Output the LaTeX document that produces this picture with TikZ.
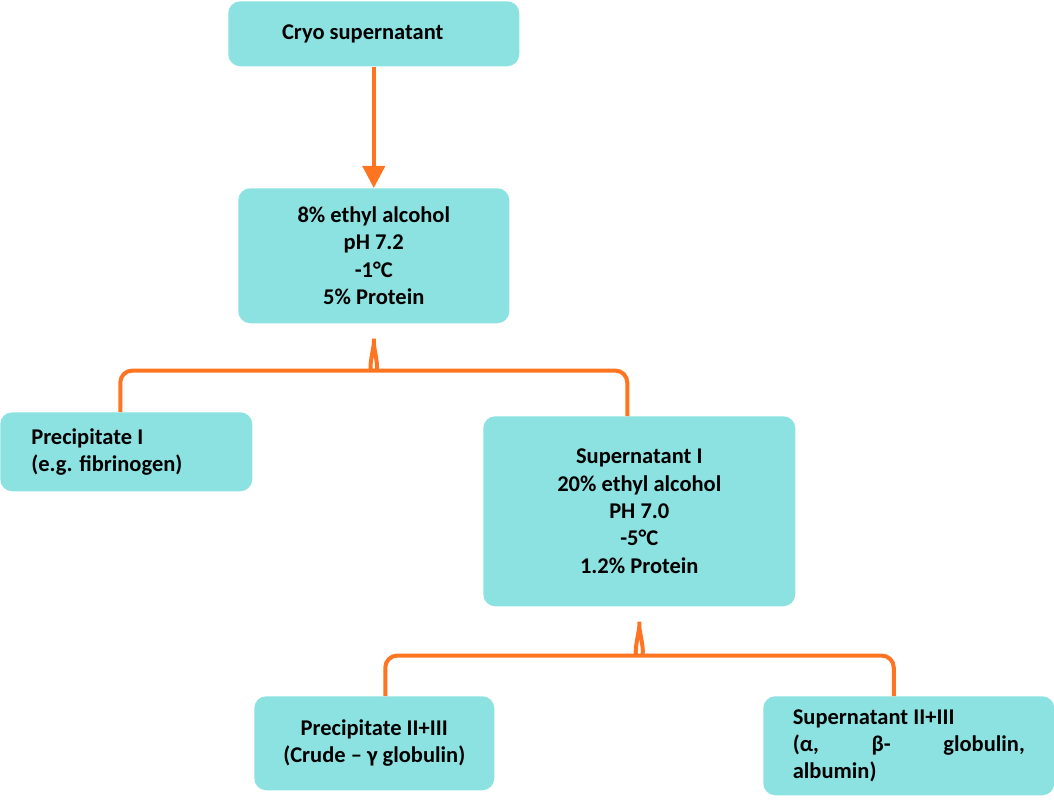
\documentclass[tikz,border=0pt]{standalone}
\usepackage{fontspec}
\setmainfont{Carlito}
\usetikzlibrary{calc, arrows.meta}
\newdimen\pu \pu=0.025cm
\definecolor{boxfill}{HTML}{8CE2E0}
\definecolor{flow}{HTML}{FF7420}
\begin{document}
\begin{tikzpicture}[
        x = 0.025cm, y = -0.025cm,
        box/.style = {fill = boxfill, draw = none, rounded corners = 12\pu,
            anchor = north west, font = \fontsize{16}{19.5}\selectfont\bfseries,
            align = center, inner sep = 0pt},
        link/.style = {draw = flow, line width = 4\pu, rounded corners = 12\pu}
    ]
    \useasboundingbox (0,0) rectangle (1054,809);

    % boxes
    \node[box, minimum width = 291\pu, minimum height = 65\pu] (cryo) at (228,1)
        {Cryo supernatant\hspace{22\pu}};
    \node[box, minimum width = 271\pu, minimum height = 135\pu] (cond1) at (238,188)
        {8\% ethyl alcohol\\pH 7.2\\-1°C\\5\% Protein};
    \node[box, minimum width = 252\pu, minimum height = 79\pu, align = left] (prec1) at (0,412)
        {\parbox{190\pu}{Precipitate I\\(e.g. fibrinogen)}};
    \node[box, minimum width = 312\pu, minimum height = 190\pu] (sup1) at (483,416)
        {Supernatant I\\20\% ethyl alcohol\\PH 7.0\\-5°C\\1.2\% Protein};
    \node[box, minimum width = 240\pu, minimum height = 94\pu] (prec2) at (254,696)
        {Precipitate II+III\\(Crude – γ globulin)};
    \node[box, minimum width = 291\pu, minimum height = 99\pu] (sup2) at (763,696)
        {\parbox{232\pu}{Supernatant II+III\\(α,\hfill β-\hfill globulin,\\albumin)}};

    % connectors
    \draw[link, rounded corners = 0pt, -{Stealth[length = 0.55cm, width = 0.55cm, inset = 0pt]}]
        (cryo.south) -- (cond1.north);
    \draw[link] ($(prec1.north)+(-6,0)$) |- ($(cond1.south)+(-10,47)$)
        to[out = 0, in = -90] ($(cond1.south)+(0,8)$)
        to[out = -90, in = 180] ($(cond1.south)+(10,47)$)
        -| ($(sup1.north)+(-12,0)$);
    \draw[link] (prec2.north) ++(11,0) |- ($(sup1.south)+(-10,49)$)
        to[out = 0, in = -90] ($(sup1.south)+(0,8)$)
        to[out = -90, in = 180] ($(sup1.south)+(10,49)$)
        -| ($(sup2.north)+(-15,0)$);
\end{tikzpicture}
\end{document}
